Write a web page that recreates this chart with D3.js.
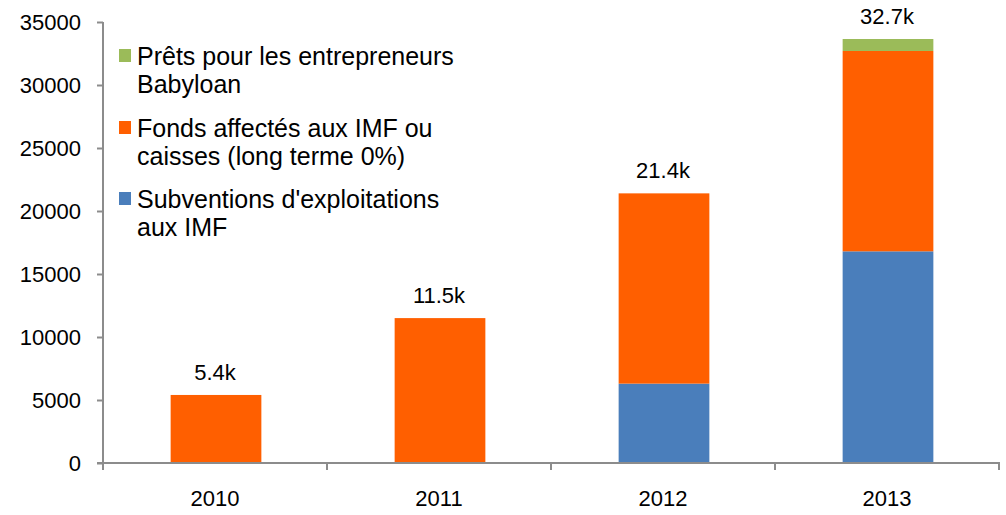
<html>
<head>
  <script src="https://d3js.org/d3.v7.min.js"></script>
  <style>
    body { margin: 0; background: #fff; }
    svg { display: block; font-family: "Liberation Sans", Arial, sans-serif; }
  </style>
</head>
<body>
<svg id="chart"></svg>
<script>
  // data
  var years = ["2010", "2011", "2012", "2013"];
  var subventions = [0, 0, 6300, 16800];
  var fonds = [5400, 11500, 15100, 15900];
  var prets = [0, 0, 0, 950];
  var topLabels = ["5.4k", "11.5k", "21.4k", "32.7k"];
  var yTicks = [0, 5000, 10000, 15000, 20000, 25000, 30000, 35000];
  var seriesNames = [
    ["Prêts pour les entrepreneurs", "Babyloan"],
    ["Fonds affectés aux IMF ou", "caisses (long terme 0%)"],
    ["Subventions d'exploitations", "aux IMF"]
  ];
  var colors = ["#9bbb59", "#ff5f00", "#4a7ebb"];

  var width = 1006, height = 515;
  var mLeft = 103, mRight = 999, mTop = 22, mBottom = 463;

  var svg = d3.select("#chart").attr("width", width).attr("height", height);

  var x = d3.scaleBand().domain(years).range([mLeft, mRight]).paddingInner(0).paddingOuter(0);
  var y = d3.scaleLinear().domain([0, 35000]).range([mBottom, mTop]);

  var rows = years.map(function(d, i) {
    return { year: d, sub: subventions[i], fonds: fonds[i], prets: prets[i] };
  });
  var stack = d3.stack().keys(["sub", "fonds", "prets"]);
  var layers = stack(rows);
  var barW = x.bandwidth() * 0.405;

  svg.selectAll("g.layer")
    .data(layers)
    .enter()
    .append("g")
    .attr("class", "layer")
    .attr("fill", function(d, i) { return colors[2 - i]; })
    .selectAll("rect")
    .data(function(d) { return d; })
    .enter()
    .append("rect")
    .attr("x", function(d) { return x(d.data.year) + (x.bandwidth() - barW) / 2 + 1; })
    .attr("y", function(d) { return y(d[1]); })
    .attr("width", barW)
    .attr("height", function(d) { return y(d[0]) - y(d[1]); });

  // y axis
  var yAxis = d3.axisLeft(y).tickValues(yTicks).tickSize(6).tickPadding(16).tickFormat(d3.format("d"));
  var gy = svg.append("g").attr("transform", "translate(" + mLeft + ",0)").call(yAxis);
  gy.select(".domain").attr("stroke", "#8c8c8c").attr("stroke-width", 2).attr("d", "M0," + (mBottom + 1) + "V" + mTop);
  gy.selectAll(".tick line").attr("stroke", "#8c8c8c").attr("stroke-width", 2);
  gy.selectAll(".tick text").attr("font-size", 22).attr("fill", "#000").attr("font-family", "Liberation Sans, Arial, sans-serif");

  // x axis
  var gx = svg.append("g").attr("transform", "translate(0," + mBottom + ")");
  gx.append("line").attr("x1", mLeft - 6).attr("x2", mRight + 1).attr("y1", 0).attr("y2", 0)
    .attr("stroke", "#8c8c8c").attr("stroke-width", 2);
  var edges = years.map(function(d) { return x(d); }).concat([mRight]);
  gx.selectAll("line.tk").data(edges).enter().append("line").attr("class", "tk")
    .attr("x1", function(d) { return d; }).attr("x2", function(d) { return d; })
    .attr("y1", 0).attr("y2", 7).attr("stroke", "#8c8c8c").attr("stroke-width", 2);
  gx.selectAll("text").data(years).enter().append("text")
    .attr("x", function(d) { return x(d) + x.bandwidth() / 2; })
    .attr("y", 43)
    .attr("text-anchor", "middle")
    .attr("font-size", 22)
    .text(function(d) { return d; });

  // labels above bars
  svg.selectAll("text.lbl").data(rows).enter().append("text").attr("class", "lbl")
    .attr("x", function(d) { return x(d.year) + x.bandwidth() / 2; })
    .attr("y", function(d) { return y(d.sub + d.fonds + d.prets) - 15; })
    .attr("text-anchor", "middle")
    .attr("font-size", 22)
    .text(function(d, i) { return topLabels[i]; });

  // legend
  var lg = svg.append("g").attr("transform", "translate(119,0)");
  var lgY = [65, 137, 208];
  seriesNames.forEach(function(names, i) {
    lg.append("rect").attr("x", 0).attr("y", lgY[i] - 16).attr("width", 12).attr("height", 13).attr("fill", colors[i]);
    names.forEach(function(t, j) {
      lg.append("text").attr("x", 18).attr("y", lgY[i] + j * 28).attr("font-size", 25).text(t);
    });
  });
</script>
</body>
</html>
